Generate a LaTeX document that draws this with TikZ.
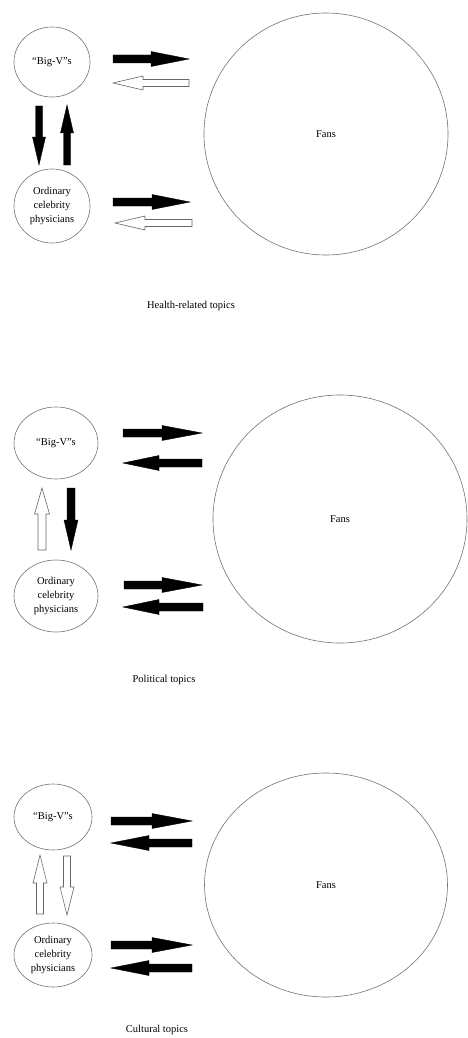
\documentclass[tikz,border=0pt]{standalone}
\usepackage{fontspec}
\setmainfont{Liberation Serif}
\usetikzlibrary{calc,shapes.geometric}
\tikzset{
  oval/.style={draw=black!55, line width=0.6pt, ellipse, inner sep=0pt, align=center,
    font=\fontsize{10.5}{14}\selectfont},
  fanscircle/.style={draw=black!55, line width=0.6pt, ellipse, inner sep=0pt,
    font=\fontsize{10.5}{14}\selectfont},
  caption/.style={font=\fontsize{10.5}{14}\selectfont, inner sep=0pt},
  blockarrow/.style n args={3}{to path={
    let \p0=($(\tikztotarget)!#3!(\tikztostart)$) in
    ($(\tikztostart)!#1!90:(\tikztotarget)$)
    -- ($(\p0)!#1!-90:(\tikztostart)$)
    -- ($(\p0)!#2!-90:(\tikztostart)$)
    -- (\tikztotarget)
    -- ($(\p0)!#2!90:(\tikztostart)$)
    -- ($(\p0)!#1!90:(\tikztostart)$)
    -- ($(\tikztostart)!#1!-90:(\tikztotarget)$)
    -- cycle}},
  solidarrow/.style={fill=black, draw=black, line width=0.4pt, line join=miter},
  openarrow/.style={fill=white, draw=black!60, line width=0.6pt, line join=miter},
}
\begin{document}
\begin{tikzpicture}[x=1pt,y=-1pt]
\useasboundingbox (0,0) rectangle (468,1038);
\fill[white] (0,0) rectangle (468,1038);

% ---------- Panel 1: Health-related topics ----------
\node[oval, minimum width=76pt, minimum height=70pt] (bigv1) at (52,62) {“Big-V”s};
\node[oval, minimum width=76pt, minimum height=74pt] (ord1) at (52,206) {Ordinary\\celebrity\\physicians};
\node[fanscircle, minimum width=244pt, minimum height=242pt] (fans1) at (326,134) {Fans};
\node[caption] (cap1) at (191,306) {Health-related topics};

\coordinate (h1a) at (113,59);  \coordinate (h1b) at (189,59);
\coordinate (h1c) at (189,83);  \coordinate (h1d) at (113,83);
\coordinate (h1e) at (113,202); \coordinate (h1f) at (190,202);
\coordinate (h1g) at (192,223); \coordinate (h1h) at (115,223);
\coordinate (v1a) at (39,106);  \coordinate (v1b) at (39,165);
\coordinate (v1c) at (67,165);  \coordinate (v1d) at (67,105);

\draw[solidarrow] (h1a) to[blockarrow={4pt}{7.5pt}{38pt}] (h1b);
\draw[openarrow]  (h1c) to[blockarrow={3.5pt}{7pt}{30pt}] (h1d);
\draw[solidarrow] (h1e) to[blockarrow={4pt}{7.5pt}{38pt}] (h1f);
\draw[openarrow]  (h1g) to[blockarrow={3.5pt}{7pt}{30pt}] (h1h);
\draw[solidarrow] (v1a) to[blockarrow={3.5pt}{6.5pt}{28pt}] (v1b);
\draw[solidarrow] (v1c) to[blockarrow={3.5pt}{6.5pt}{28pt}] (v1d);

% ---------- Panel 2: Political topics ----------
\node[oval, minimum width=84pt, minimum height=72pt] (bigv2) at (56,443) {“Big-V”s};
\node[oval, minimum width=84pt, minimum height=72pt] (ord2) at (56,596) {Ordinary\\celebrity\\physicians};
\node[fanscircle, minimum width=254pt, minimum height=248pt] (fans2) at (340,519) {Fans};
\node[caption] (cap2) at (164,680) {Political topics};

\coordinate (h2a) at (123,433); \coordinate (h2b) at (202,433);
\coordinate (h2c) at (202,463); \coordinate (h2d) at (123,463);
\coordinate (h2e) at (124,585); \coordinate (h2f) at (202,585);
\coordinate (h2g) at (203,607); \coordinate (h2h) at (123,607);
\coordinate (v2a) at (42,550);  \coordinate (v2b) at (42,488);
\coordinate (v2c) at (71,488);  \coordinate (v2d) at (71,550);

\draw[solidarrow] (h2a) to[blockarrow={4pt}{7.5pt}{40pt}] (h2b);
\draw[solidarrow] (h2c) to[blockarrow={4pt}{7.5pt}{36pt}] (h2d);
\draw[solidarrow] (h2e) to[blockarrow={4pt}{7.5pt}{40pt}] (h2f);
\draw[solidarrow] (h2g) to[blockarrow={4pt}{7.5pt}{36pt}] (h2h);
\draw[openarrow]  (v2a) to[blockarrow={4pt}{7.5pt}{26pt}] (v2b);
\draw[solidarrow] (v2c) to[blockarrow={4pt}{7pt}{30pt}] (v2d);

% ---------- Panel 3: Cultural topics ----------
\node[oval, minimum width=78pt, minimum height=66pt] (bigv3) at (53,817) {“Big-V”s};
\node[oval, minimum width=78pt, minimum height=64pt] (ord3) at (53,955) {Ordinary\\celebrity\\physicians};
\node[fanscircle, minimum width=243pt, minimum height=224pt] (fans3) at (326,885) {Fans};
\node[caption] (cap3) at (157,1030) {Cultural topics};

\coordinate (h3a) at (111,821); \coordinate (h3b) at (192,821);
\coordinate (h3c) at (192,843); \coordinate (h3d) at (111,843);
\coordinate (h3e) at (111,945); \coordinate (h3f) at (192,945);
\coordinate (h3g) at (192,968); \coordinate (h3h) at (111,968);
\coordinate (v3a) at (40,914);  \coordinate (v3b) at (40,855);
\coordinate (v3c) at (67,856);  \coordinate (v3d) at (67,915);

\draw[solidarrow] (h3a) to[blockarrow={4pt}{7.5pt}{40pt}] (h3b);
\draw[solidarrow] (h3c) to[blockarrow={4pt}{7.5pt}{38pt}] (h3d);
\draw[solidarrow] (h3e) to[blockarrow={4pt}{7.5pt}{40pt}] (h3f);
\draw[solidarrow] (h3g) to[blockarrow={4pt}{7.5pt}{38pt}] (h3h);
\draw[openarrow]  (v3a) to[blockarrow={3.5pt}{7pt}{28pt}] (v3b);
\draw[openarrow]  (v3c) to[blockarrow={3.5pt}{7pt}{28pt}] (v3d);
\end{tikzpicture}
\end{document}
